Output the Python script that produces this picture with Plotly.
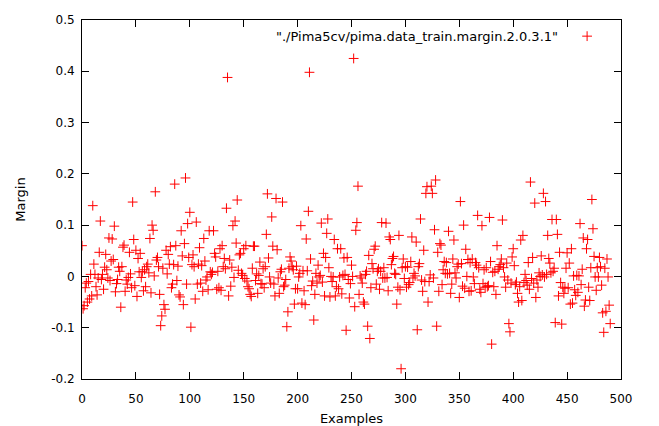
import plotly.graph_objects as go

series_name = '"./Pima5cv/pima.data_train.margin.2.0.3.1"'

margin = [
    # 0-39
    0.060, -0.063, -0.057, -0.022, -0.013, -0.050, -0.010, -0.044, 0.004, -0.038,
    0.138, 0.024, 0.004, -0.020, -0.036, -0.003, 0.047, 0.108, -0.006, 0.004,
    -0.025, 0.018, 0.043, 0.013, -0.003, 0.075, -0.008, 0.030, 0.073, 0.033,
    0.098, -0.030, -0.014, -0.006, 0.018, 0.010, -0.060, 0.019, 0.057, 0.061,
    # 40-79
    -0.029, -0.007, -0.015, -0.002, 0.047, 0.005, -0.022, 0.145, 0.072, -0.018,
    0.051, -0.039, 0.035, 0.009, 0.045, -0.002, 0.009, -0.028, 0.013, -0.020,
    0.019, 0.024, 0.007, 0.074, -0.032, 0.100, 0.090, 0.001, 0.165, 0.032,
    0.037, 0.019, -0.035, -0.096, -0.077, 0.016, -0.055, -0.064, 0.051, 0.005,
    # 80-119
    0.043, 0.024, 0.058, -0.022, -0.015, 0.023, 0.180, 0.060, -0.008, 0.020,
    -0.036, -0.040, 0.089, 0.040, -0.055, 0.064, 0.192, -0.015, 0.103, 0.037,
    0.125, -0.099, 0.023, 0.042, 0.019, -0.044, 0.106, -0.015, 0.024, 0.056,
    -0.013, 0.021, -0.029, 0.074, 0.030, -0.007, -0.001, -0.026, 0.089, 0.009,
    # 120-159
    0.004, 0.008, 0.089, 0.045, 0.038, -0.025, 0.010, -0.022, 0.054, -0.027,
    0.060, 0.019, 0.035, 0.015, 0.133, 0.388, -0.038, 0.032, -0.019, 0.018,
    0.099, -0.002, 0.108, 0.065, 0.149, 0.012, 0.042, 0.045, 0.006, 0.002,
    0.054, -0.004, 0.060, -0.009, -0.020, -0.024, -0.035, -0.039, 0.016, 0.059,
    # 160-199
    0.059, -0.008, 0.005, -0.033, 0.002, 0.028, -0.014, -0.015, 0.015, -0.022,
    0.019, 0.082, 0.161, 0.036, -0.001, -0.013, 0.116, 0.059, -0.015, -0.038,
    0.152, 0.052, -0.003, -0.033, 0.009, 0.014, 0.145, -0.020, -0.017, -0.006,
    -0.098, -0.069, 0.016, 0.038, 0.030, 0.019, 0.013, -0.054, -0.024, 0.020,
    # 200-239
    -0.024, -0.001, 0.006, 0.099, -0.052, 0.011, -0.028, -0.055, 0.073, 0.011,
    0.127, 0.398, 0.034, -0.018, -0.009, -0.085, -0.035, 0.006, -0.013, 0.022,
    -0.001, 0.002, 0.104, -0.011, 0.045, -0.038, 0.037, 0.084, 0.112, 0.017,
    -0.040, 0.000, -0.010, -0.001, 0.072, -0.038, -0.020, 0.054, -0.024, -0.001,
    # 240-279
    0.054, -0.034, 0.002, 0.036, 0.004, -0.105, 0.037, -0.006, -0.042, -0.014,
    0.022, 0.000, 0.425, -0.059, 0.090, 0.105, 0.176, -0.035, 0.001, -0.003,
    -0.013, -0.050, -0.054, 0.004, 0.010, -0.097, 0.041, -0.121, -0.022, 0.025,
    0.015, 0.053, 0.059, -0.015, 0.010, 0.015, -0.025, 0.010, 0.105, -0.003,
    # 280-319
    0.017, -0.003, 0.104, -0.002, -0.028, 0.077, 0.072, 0.023, 0.035, 0.039,
    0.006, 0.004, -0.054, -0.021, 0.080, -0.026, -0.180, 0.017, 0.034, -0.004,
    0.019, -0.021, 0.018, -0.016, -0.012, 0.029, 0.077, -0.003, 0.006, 0.001,
    0.067, -0.104, 0.019, 0.025, 0.112, -0.007, -0.029, 0.051, -0.010, 0.162,
    # 320-359
    0.175, -0.050, -0.010, 0.003, 0.176, 0.162, -0.003, 0.091, 0.188, -0.097,
    0.047, -0.029, 0.064, 0.061, -0.016, 0.013, 0.029, 0.006, 0.027, 0.005,
    0.088, 0.006, -0.033, -0.015, 0.034, 0.071, 0.007, -0.003, 0.019, 0.024,
    -0.041, 0.146, 0.025, -0.019, 0.100, -0.023, 0.053, 0.000, 0.033, -0.029,
    # 360-399
    0.027, -0.028, 0.034, -0.001, -0.014, 0.027, 0.022, 0.119, 0.017, -0.025,
    -0.031, 0.099, -0.014, 0.013, -0.021, 0.017, -0.020, -0.018, 0.115, 0.029,
    -0.132, 0.008, -0.020, 0.010, -0.035, 0.060, 0.014, 0.019, 0.023, 0.034,
    0.110, 0.017, -0.001, -0.021, 0.026, -0.007, -0.092, -0.108, -0.013, 0.038,
    # 400-445
    0.054, 0.021, -0.016, -0.011, -0.033, -0.050, -0.020, 0.071, -0.047, 0.080,
    -0.012, 0.004, -0.008, -0.017, 0.027, -0.025, 0.184, -0.004, 0.037, -0.013,
    0.143, -0.041, -0.007, -0.021, 0.007, 0.000, 0.040, 0.003, 0.162, -0.001,
    0.146, 0.004, 0.080, 0.035, 0.026, 0.007, 0.111, 0.010, 0.016, -0.090,
    0.111, 0.082, -0.038, 0.047, -0.012, -0.093,
    # 446-490
    -0.021, -0.033, -0.023, 0.016, 0.046, -0.022, 0.026, -0.054, 0.054, -0.052,
    0.001, -0.026, -0.037, 0.002, -0.031, 0.001, 0.103, -0.016, 0.014, 0.075,
    -0.058, -0.046, 0.054, 0.072, -0.021, -0.047, 0.017, 0.150, 0.093, 0.039,
    -0.001, -0.027, 0.017, -0.001, 0.037, 0.019, -0.017, -0.071, -0.109, 0.016,
    -0.068, 0.034, -0.001, -0.056, -0.092,
]
examples = list(range(len(margin)))

x_ticks = [0, 50, 100, 150, 200, 250, 300, 350, 400, 450, 500]
y_ticks = [-0.2, -0.1, 0, 0.1, 0.2, 0.3, 0.4, 0.5]
y_tick_text = ["-0.2", "-0.1", "0", "0.1", "0.2", "0.3", "0.4", "0.5"]

FONT = "DejaVu Sans"

fig = go.Figure()
fig.add_trace(go.Scatter(
    x=examples, y=margin, mode="markers", name="",
    marker=dict(symbol="cross-thin", size=7, color="#ff0000",
                line=dict(color="#ff0000", width=1)),
    showlegend=True,
))

axis_common = dict(
    showline=True, linecolor="black", linewidth=1, mirror="ticks",
    ticks="inside", ticklen=7, tickcolor="black", tickwidth=1,
    showgrid=False, zeroline=False, automargin=False,
    tickfont=dict(family=FONT, size=12, color="black"),
)

fig.update_layout(
    width=659, height=426,
    margin=dict(l=82, r=38, t=20, b=47),
    paper_bgcolor="white", plot_bgcolor="white",
    font=dict(family=FONT, size=12, color="black"),
    xaxis=dict(range=[0, 500], tickvals=x_ticks, ticklabelstandoff=9,
               title=dict(text="Examples", font=dict(family=FONT, size=13), standoff=13),
               **axis_common),
    yaxis=dict(range=[-0.2, 0.5], tickvals=y_ticks, ticktext=y_tick_text,
               ticklabelstandoff=4,
               title=dict(text="Margin", font=dict(family=FONT, size=13), standoff=22),
               **axis_common),
    legend=dict(x=0.9, y=0.955, xanchor="left", yanchor="middle",
                bgcolor="rgba(0,0,0,0)", borderwidth=0,
                font=dict(family=FONT, size=12)),
    annotations=[dict(text=series_name, xref="paper", yref="paper",
                      x=0.886, y=0.955, xanchor="right", yanchor="middle",
                      showarrow=False, font=dict(family=FONT, size=13, color="black"))],
)

fig.write_html("out.html")
